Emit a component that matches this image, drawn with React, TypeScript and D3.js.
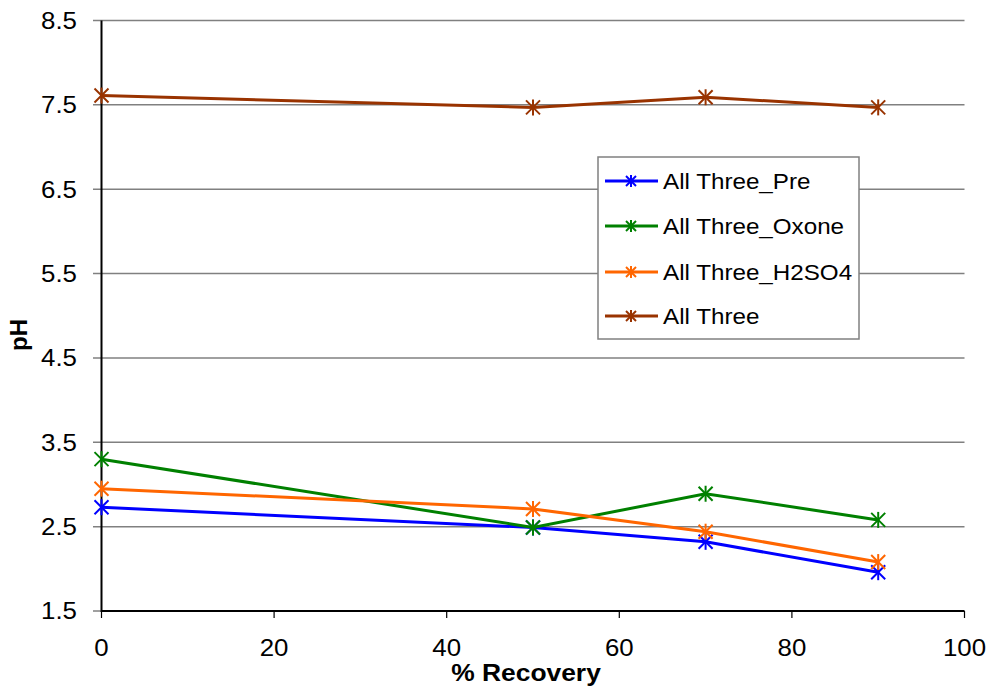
import React from "react";
import * as d3 from "d3";

const recovery = [0, 50, 70, 90];
const seriesNames = ["All Three_Pre", "All Three_Oxone", "All Three_H2SO4", "All Three"];
const preValues = [2.73, 2.49, 2.32, 1.96];
const oxoneValues = [3.3, 2.49, 2.89, 2.58];
const h2so4Values = [2.95, 2.71, 2.44, 2.08];
const allThreeValues = [7.61, 7.47, 7.59, 7.47];
const seriesColors = ["#0000FF", "#008000", "#FF6600", "#993300"];
const yTicks = [1.5, 2.5, 3.5, 4.5, 5.5, 6.5, 7.5, 8.5];
const xTicks = [0, 20, 40, 60, 80, 100];

const W = 992, H = 687;
const FONT = "Liberation Sans, Arial, sans-serif";
const SX = 1.1;

function Star({ x, y, color, r = 7 }: { x: number; y: number; color: string; r?: number }) {
  return (
    <g stroke={color} strokeWidth={2}>
      <line x1={x - r} y1={y - r} x2={x + r} y2={y + r} />
      <line x1={x - r} y1={y + r} x2={x + r} y2={y - r} />
      <line x1={x} y1={y - r - 1} x2={x} y2={y + r + 1} />
    </g>
  );
}

function T({ x, y, anchor = "start", size, bold = false, children }: any) {
  return (
    <text
      transform={`translate(${x},${y}) scale(${SX},1)`}
      dy="0.36em"
      textAnchor={anchor}
      fontSize={size}
      fontWeight={bold ? "bold" : "normal"}
    >
      {children}
    </text>
  );
}

export default function App() {
  const x = d3.scaleLinear().domain([0, 100]).range([101.5, 964.5]);
  const y = d3.scaleLinear().domain([1.5, 8.5]).range([611, 20.5]);
  const allSeries = [preValues, oxoneValues, h2so4Values, allThreeValues];
  const line = d3
    .line<number>()
    .x((_, i) => x(recovery[i]))
    .y((d) => y(d));

  const legendX = 598, legendY = 157, legendW = 261, legendH = 182;
  const legendRows = [181, 226, 272, 316];

  return (
    <svg width={W} height={H} style={{ position: "absolute", left: 0, top: 0 }} fontFamily={FONT}>
      <rect width={W} height={H} fill="#fff" />
      {yTicks.map((t) => (
        <g key={t}>
          <line x1={93} x2={t === 1.5 ? 101 : 964.5} y1={y(t)} y2={y(t)} stroke="#808080" strokeWidth={1.5} />
          <T x={77} y={y(t)} anchor="end" size={23.5}>
            {t.toFixed(1)}
          </T>
        </g>
      ))}
      {xTicks.map((t) => (
        <g key={t}>
          <line x1={x(t)} x2={x(t)} y1={611} y2={618} stroke="#000" strokeWidth={1.2} />
          <T x={x(t)} y={648} anchor="middle" size={23.5}>
            {t}
          </T>
        </g>
      ))}
      <line x1={101.5} x2={101.5} y1={20.5} y2={612} stroke="#000" strokeWidth={2} />
      <line x1={101} x2={964.5} y1={611} y2={611} stroke="#000" strokeWidth={2} />

      {allSeries.map((vals, si) => (
        <g key={si}>
          <path d={line(vals) || ""} fill="none" stroke={seriesColors[si]} strokeWidth={3} />
          {vals.map((v, i) => (
            <Star key={i} x={x(recovery[i])} y={y(v)} color={seriesColors[si]} />
          ))}
        </g>
      ))}

      <rect x={legendX} y={legendY} width={legendW} height={legendH} fill="#fff" stroke="#808080" strokeWidth={1.5} />
      {seriesNames.map((n, i) => (
        <g key={n}>
          <line x1={605} x2={658} y1={legendRows[i]} y2={legendRows[i]} stroke={seriesColors[i]} strokeWidth={3} />
          <Star x={631} y={legendRows[i]} color={seriesColors[i]} r={5} />
          <T x={663} y={legendRows[i]} size={22}>
            {n}
          </T>
        </g>
      ))}

      <T x={526} y={672} anchor="middle" size={24} bold>
        % Recovery
      </T>
      <text transform={`translate(18,335) rotate(-90)`} dy="0.36em" textAnchor="middle" fontSize={24} fontWeight="bold">
        pH
      </text>
    </svg>
  );
}
